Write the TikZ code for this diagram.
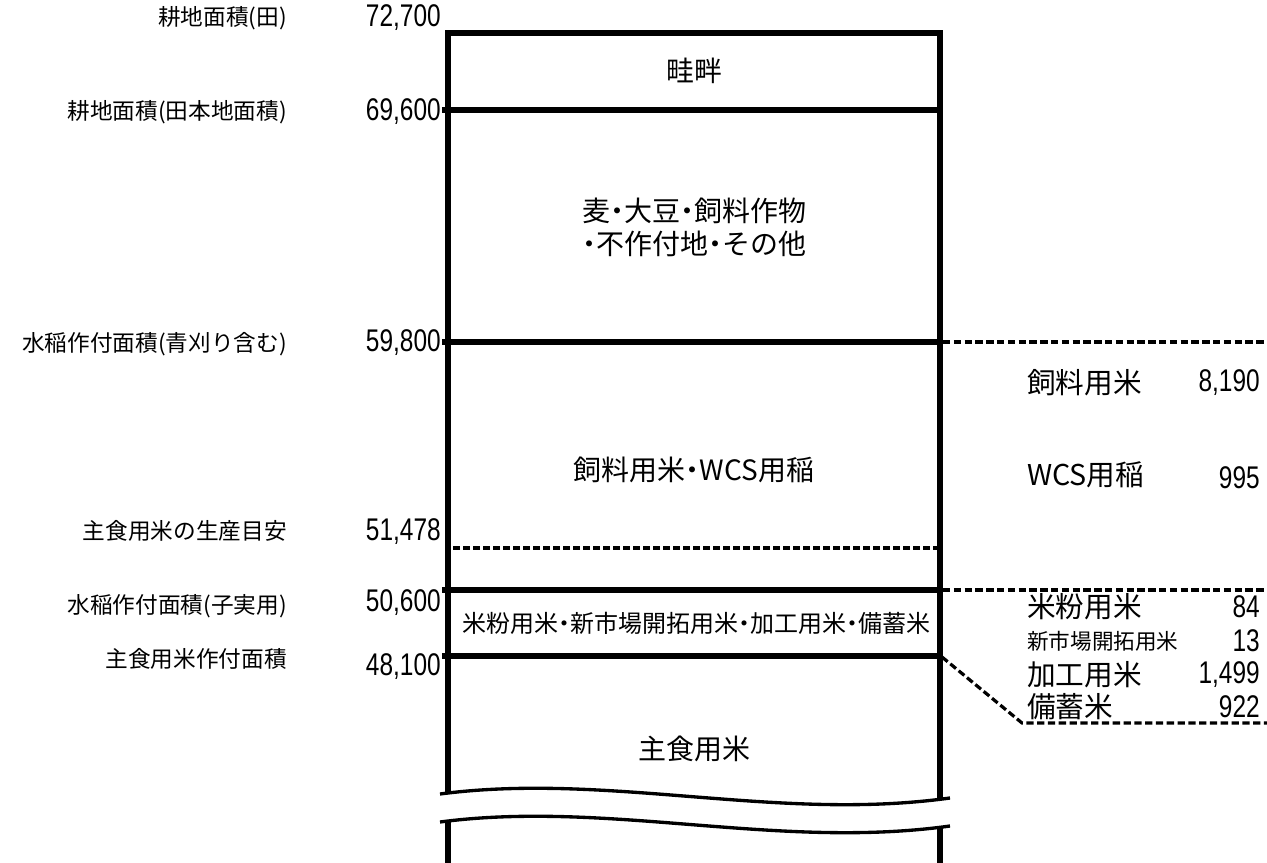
\documentclass[tikz,border=0pt]{standalone}
\usepackage{fontspec}
\setmainfont{Noto Sans CJK JP}
\newfontfamily\numfont[FakeStretch=0.78]{Liberation Sans}
\usepackage{tikz}
\usetikzlibrary{calc, positioning}
\newcommand{\pdot}{\kern-0.25em・\kern-0.25em}
\tikzset{
    colline/.style = {line width=4.5pt, line join=miter},
    breakline/.style = {line width=2.5pt},
    innerdash/.style = {line width=2.3pt, dash pattern=on 5pt off 2.5pt},
    sidedash/.style = {line width=2.4pt, dash pattern=on 5.5pt off 2.6pt},
    leftnode/.style = {draw=none, fill=none, rectangle, inner sep=0em, anchor=east, 
      font=\fontsize{17}{19}\selectfont},
    numnode/.style = {draw=none, fill=none, rectangle, inner sep=0em, anchor=east, 
      font=\numfont\fontsize{23.5}{26}\selectfont},
    boxnode/.style = {draw=none, fill=none, rectangle, inner sep=0em, 
      font=\fontsize{21}{24.75}\selectfont},
    smallboxnode/.style = {draw=none, fill=none, rectangle, inner sep=0em, 
      font=\fontsize{18}{20}\selectfont},
    rightnode/.style = {draw=none, fill=none, rectangle, inner sep=0em, anchor=west, 
      font=\fontsize{21.5}{24}\selectfont},
    smallrightnode/.style = {draw=none, fill=none, rectangle, inner sep=0em, anchor=west, 
      font=\fontsize{16.2}{18}\selectfont},
    every text node part/.style={align=center}
}

\begin{document}
\begin{tikzpicture}[x=0.75pt, y=-0.75pt]
    \useasboundingbox (0,0) rectangle (1267,863);

    \draw [colline] (448,794) -- (448,33) -- (940,33) -- (940,798);
    \draw [colline] (448,822) -- (448,870);
    \draw [colline] (940,826) -- (940,870);
    \foreach \y in {110, 342, 590, 656} {
        \draw [colline] (442,\y) -- (943,\y);
    }
    \draw [innerdash] (453,548) -- (937,548);
    \draw [breakline] (440,794) .. controls (608,772) and (777,822) .. (950,798);
    \draw [breakline] (440,822) .. controls (608,800) and (777,850) .. (950,826);

    \node [name = PaddyLbl, leftnode] at (287,18) {耕地面積(田)};
    \node [name = PaddyNum, numnode] at (441,18) {72,700};
    \node [name = MainLbl, leftnode] at (287,112) {耕地面積(田本地面積)};
    \node [name = MainNum, numnode] at (441,112) {69,600};
    \node [name = RiceLbl, leftnode] at (287,344) {水稲作付面積(青刈り含む)};
    \node [name = RiceNum, numnode] at (441,343) {59,800};
    \node [name = GoalLbl, leftnode] at (287,531) {主食用米の生産目安};
    \node [name = GoalNum, numnode] at (441,532) {51,478};
    \node [name = GrainLbl, leftnode] at (287,606) {水稲作付面積(子実用)};
    \node [name = GrainNum, numnode] at (441,603) {50,600};
    \node [name = StapleLbl, leftnode] at (287,659) {主食用米作付面積};
    \node [name = StapleNum, numnode] at (441,667) {48,100};

    \node [name = Levee, boxnode] at (694,71) {畦畔};
    \node [name = Other, boxnode] at (694,227) {麦\pdot 大豆\pdot 飼料作物\\\pdot 不作付地\pdot その他};
    \node [name = Feed, boxnode] at (694,470) {飼料用米\pdot WCS用稲};
    \node [name = Misc, smallboxnode] at (696,623) {米粉用米\pdot 新市場開拓用米\pdot 加工用米\pdot 備蓄米};
    \node [name = Staple, boxnode] at (694,749) {主食用米};

    \draw [sidedash] (943,342) -- (1267,342);
    \draw [sidedash] (943,590) -- (1267,590);
    \draw [sidedash] (942,657) -- (1022,723) -- (1267,723);

    \node [name = FeedLbl, rightnode] at (1027,383) {飼料用米};
    \node [name = FeedNum, numnode] at (1260,383) {8,190};
    \node [name = WcsLbl, rightnode] at (1027,475) {WCS用稲};
    \node [name = WcsNum, numnode] at (1260,478) {995};
    \node [name = FlourLbl, rightnode] at (1027,607) {米粉用米};
    \node [name = FlourNum, numnode] at (1260,607) {84};
    \node [name = NewLbl, smallrightnode] at (1027,641) {新市場開拓用米};
    \node [name = NewNum, numnode] at (1260,641) {13};
    \node [name = ProcLbl, rightnode] at (1027,675) {加工用米};
    \node [name = ProcNum, numnode] at (1260,675) {1,499};
    \node [name = StockLbl, rightnode] at (1027,707) {備蓄米};
    \node [name = StockNum, numnode] at (1260,707) {922};
\end{tikzpicture}
\end{document}
